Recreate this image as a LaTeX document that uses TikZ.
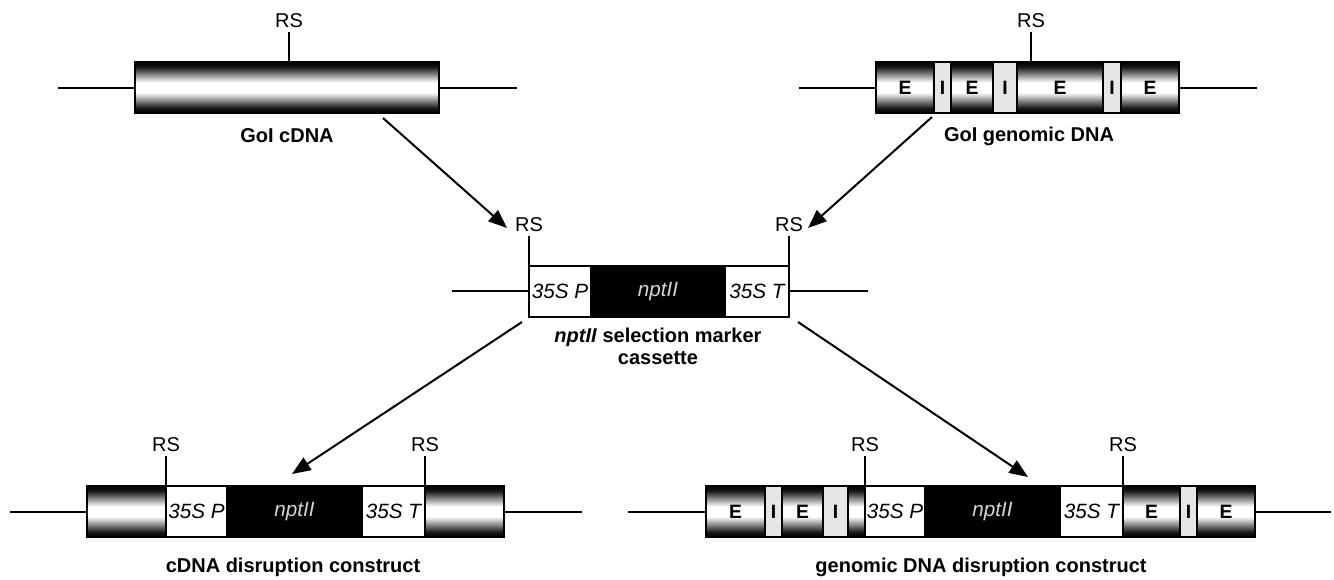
\documentclass[tikz,border=0pt]{standalone}
\usepackage{fontspec}
\setmainfont{Liberation Sans}
\usetikzlibrary{arrows.meta}

\definecolor{introngray}{HTML}{E6E6E6}
\definecolor{nptgray}{HTML}{D4D4D4}
\pgfdeclareverticalshading{exonshade}{100bp}{color(0bp)=(black); color(25bp)=(black);
  color(30bp)=(black!90); color(45bp)=(white); color(55bp)=(white);
  color(70bp)=(black!90); color(75bp)=(black); color(100bp)=(black)}

\tikzset{
  dna/.style={line width=1.5pt},
  frame/.style={draw, line width=1.6pt},
  exon/.style={draw, line width=1.1pt, shade, shading=exonshade,
    nodes={font=\bfseries\fontsize{14.5}{16}\selectfont}},
  intron/.style={draw, line width=1.1pt, fill=introngray,
    nodes={font=\bfseries\fontsize{14.5}{16}\selectfont}},
  promo/.style={draw, line width=1.1pt, fill=white,
    nodes={font=\itshape\fontsize{15.5}{17}\selectfont}},
  marker/.style={draw, line width=1.1pt, fill=black,
    nodes={text=nptgray, font=\itshape\fontsize{15.5}{17}\selectfont}},
  rs/.style={font=\fontsize{15}{17}\selectfont},
  lbl/.style={font=\bfseries\fontsize{15}{16.5}\selectfont, align=center},
  arr/.style={-{Triangle[length=14pt,width=11pt]}, line width=1.5pt},
}

% restriction site: tick above the bar and its label
\newcommand{\rssite}[3]{%
  \draw[dna] (#2,#3) -- (#2,#3-30);
  \node[rs] (#1) at (#2,#3-41) {RS};}

\begin{document}
\begin{tikzpicture}[x=0.75pt,y=-0.75pt]
  \useasboundingbox (0,0) rectangle (1334,579);

  % GoI cDNA
  \draw[dna] (58,88) -- (517,88);
  \draw[exon] (135,62) rectangle (439,113);
  \draw[frame] (135,62) rectangle (439,113);
  \rssite{rs1}{289}{62}
  \node[lbl] (cdna) at (287,136) {GoI cDNA};

  % GoI genomic DNA
  \draw[dna] (799,88) -- (1257,88);
  \foreach \l/\r/\k/\t [count=\i] in {876/934/exon/E, 934/951/intron/I,
      951/993/exon/E, 993/1017/intron/I, 1017/1103/exon/E,
      1103/1121/intron/I, 1121/1179/exon/E}
    \draw[\k] (\l,62) rectangle (\r,113) node[midway] (gd\i) {\t};
  \draw[frame] (876,62) rectangle (1179,113);
  \rssite{rs2}{1031}{62}
  \node[lbl] (gdna) at (1029,136) {GoI genomic DNA};

  % nptII cassette
  \draw[dna] (452,291) -- (868,291);
  \foreach \l/\r/\k/\t [count=\i] in {529/591/promo/35S P,
      591/725/marker/nptII, 725/789/promo/35S T}
    \draw[\k] (\l,266) rectangle (\r,317) node[midway] (np\i) {\t};
  \draw[frame] (529,266) rectangle (789,317);
  \rssite{rs3}{529}{266}
  \rssite{rs4}{789}{266}
  \node[lbl] (cassette) at (658,346) {\textit{nptII} selection marker\\cassette};

  % cDNA disruption construct
  \draw[dna] (10,512) -- (582,512);
  \foreach \l/\r/\k/\t [count=\i] in {87/166/exon/, 166/227/promo/35S P,
      227/362/marker/nptII, 362/425/promo/35S T, 425/504/exon/}
    \draw[\k] (\l,486) rectangle (\r,537) node[midway] (cd\i) {\t};
  \draw[frame] (87,486) rectangle (504,537);
  \rssite{rs5}{166}{486}
  \rssite{rs6}{425}{486}
  \node[lbl] (cdnacon) at (293,567) {cDNA disruption construct};

  % genomic DNA disruption construct
  \draw[dna] (628,512) -- (1331,512);
  \foreach \l/\r/\k/\t [count=\i] in {706/765/exon/E, 765/782/intron/I,
      782/823/exon/E, 823/848/intron/I, 848/865/exon/,
      865/925/promo/35S P, 925/1060/marker/nptII, 1060/1123/promo/35S T,
      1123/1180/exon/E, 1180/1197/intron/I, 1197/1255/exon/E}
    \draw[\k] (\l,486) rectangle (\r,537) node[midway] (gc\i) {\t};
  \draw[frame] (706,486) rectangle (1255,537);
  \rssite{rs7}{865}{486}
  \rssite{rs8}{1123}{486}
  \node[lbl] (gdnacon) at (981,567) {genomic DNA disruption construct};

  % arrows
  \coordinate (cdnaout) at (383,118);
  \coordinate (gdnaout) at (932,117);
  \coordinate (rsleft) at (507,228);
  \coordinate (rsright) at (808,228);
  \coordinate (npleft) at (522,322);
  \coordinate (npright) at (798,322);
  \coordinate (cdnain) at (292,474);
  \coordinate (gdnain) at (1028,477);
  \draw[arr] (cdnaout) -- (rsleft);
  \draw[arr] (gdnaout) -- (rsright);
  \draw[arr] (npleft) -- (cdnain);
  \draw[arr] (npright) -- (gdnain);
\end{tikzpicture}
\end{document}
